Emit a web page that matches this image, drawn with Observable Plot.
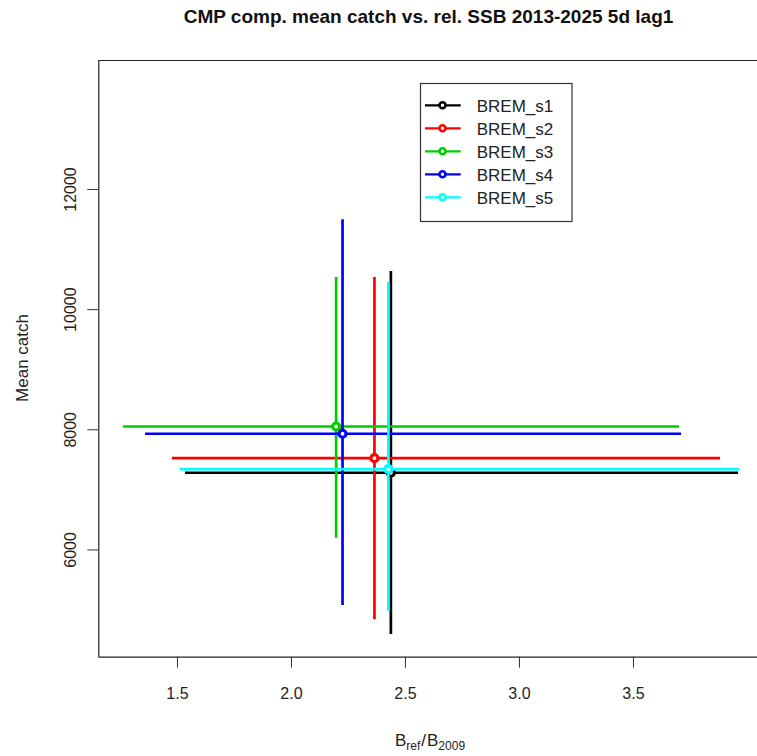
<!DOCTYPE html>
<html>
<head>
<meta charset="utf-8">
<script src="https://cdn.jsdelivr.net/npm/d3@7"></script>
<script src="https://cdn.jsdelivr.net/npm/@observablehq/plot@0.6"></script>
<style>
  html, body { margin: 0; padding: 0; background: #fff; }
  svg text { font-family: "Liberation Sans", Arial, sans-serif; }
</style>
</head>
<body>
<div id="chart"></div>
<script>
// ---- data ----
const series = ["BREM_s1", "BREM_s2", "BREM_s3", "BREM_s4", "BREM_s5"];
const colors = ["#000000", "#FF0000", "#00CD00", "#0000FF", "#00FFFF"];
const relSSB     = [2.436, 2.364, 2.196, 2.224, 2.425];
const relSSBLow  = [1.535, 1.478, 1.263, 1.360, 1.513];
const relSSBHigh = [3.961, 3.882, 3.702, 3.711, 3.965];
const catchMean  = [7285, 7528, 8055, 7934, 7345];
const catchLow   = [4593, 4838, 6196, 5076, 4981];
const catchHigh  = [10635, 10535, 10535, 11496, 10457];
const xTicks = [1.5, 2.0, 2.5, 3.0, 3.5];
const yTicks = [6000, 8000, 10000, 12000];
const xDomain = [1.155, 4.044];
const yDomain = [4215, 14147];

const rows = series.map((s, i) => ({
  name: s, color: colors[i],
  x: relSSB[i], x1: relSSBLow[i], x2: relSSBHigh[i],
  y: catchMean[i], y1: catchLow[i], y2: catchHigh[i]
}));

const W = 757, H = 756;
const mL = 98.3, mT = 60, mB = 99.3, mR = 0;
const lw = 2.7;
const font = "Liberation Sans, Arial, sans-serif";

const dataMarks = [];
rows.forEach(r => {
  dataMarks.push(Plot.ruleY([r], {y: "y", x1: "x1", x2: "x2", stroke: r.color, strokeWidth: lw}));
  dataMarks.push(Plot.ruleX([r], {x: "x", y1: "y1", y2: "y2", stroke: r.color, strokeWidth: lw}));
  dataMarks.push(Plot.dot([r], {x: "x", y: "y", r: 3.5, stroke: r.color, strokeWidth: 3.2, fill: "white"}));
});

const chart = Plot.plot({
  width: W, height: H,
  marginLeft: mL, marginTop: mT, marginBottom: mB, marginRight: mR,
  style: {fontFamily: font, background: "white", overflow: "visible"},
  x: {domain: xDomain, axis: null},
  y: {domain: yDomain, axis: null},
  marks: [
    // frame (left, top, bottom; right side falls outside the picture)
    Plot.ruleX([xDomain[0]], {y1: yDomain[0], y2: yDomain[1], stroke: "#222", strokeWidth: 1.2}),
    Plot.ruleY([yDomain[1], yDomain[0]], {x1: xDomain[0], x2: xDomain[1], stroke: "#222", strokeWidth: 1.2}),
    // ticks
    Plot.axisX({ticks: xTicks, tickSize: 11, tickPadding: 19, fontSize: 16, tickFormat: d3.format(".1f"), stroke: "#333", fill: "#222"}),
    Plot.axisY({ticks: yTicks, tickSize: 11, tickFormat: () => "", stroke: "#333"}),
    Plot.text(yTicks, {x: xDomain[0], y: d => d, text: d => String(d), rotate: -90, dx: -28,
      fontSize: 16, textAnchor: "middle", lineAnchor: "middle", fill: "#222"}),
    ...dataMarks
  ]
});

document.getElementById("chart").appendChild(chart);

const svg = d3.select(chart);

// title
svg.append("text")
  .attr("x", 428.5).attr("y", 23)
  .attr("text-anchor", "middle")
  .attr("font-size", 19).attr("font-weight", "bold").attr("fill", "#111")
  .text("CMP comp. mean catch vs. rel. SSB 2013-2025 5d lag1");

// y axis title
svg.append("text")
  .attr("transform", "translate(28,358) rotate(-90)")
  .attr("text-anchor", "middle")
  .attr("font-size", 17).attr("fill", "#222")
  .text("Mean catch");

// x axis title: B_ref / B_2009
const xt = svg.append("text")
  .attr("x", 430).attr("y", 746)
  .attr("text-anchor", "middle")
  .attr("font-size", 17).attr("fill", "#222");
xt.append("tspan").text("B");
xt.append("tspan").attr("font-size", 12).attr("dy", 4).text("ref");
xt.append("tspan").attr("dy", -4).attr("dx", 1).text("/");
xt.append("tspan").attr("dx", 1).text("B");
xt.append("tspan").attr("font-size", 12).attr("dy", 4).text("2009");

// legend
const lg = svg.append("g");
lg.append("rect")
  .attr("x", 420.5).attr("y", 83.5).attr("width", 151.5).attr("height", 138)
  .attr("fill", "white").attr("stroke", "#333").attr("stroke-width", 1.2);
series.forEach((s, i) => {
  const yy = 105.3 + i * 23;
  lg.append("line").attr("x1", 425).attr("x2", 460.7).attr("y1", yy).attr("y2", yy)
    .attr("stroke", colors[i]).attr("stroke-width", 2.3);
  lg.append("circle").attr("cx", 442.5).attr("cy", yy).attr("r", 3)
    .attr("stroke", colors[i]).attr("stroke-width", 2.5).attr("fill", "white");
  lg.append("text").attr("x", 476.7).attr("y", yy + 6.2)
    .attr("text-anchor", "start")
    .attr("font-size", 17).attr("fill", "#222").text(s);
});
</script>
</body>
</html>
